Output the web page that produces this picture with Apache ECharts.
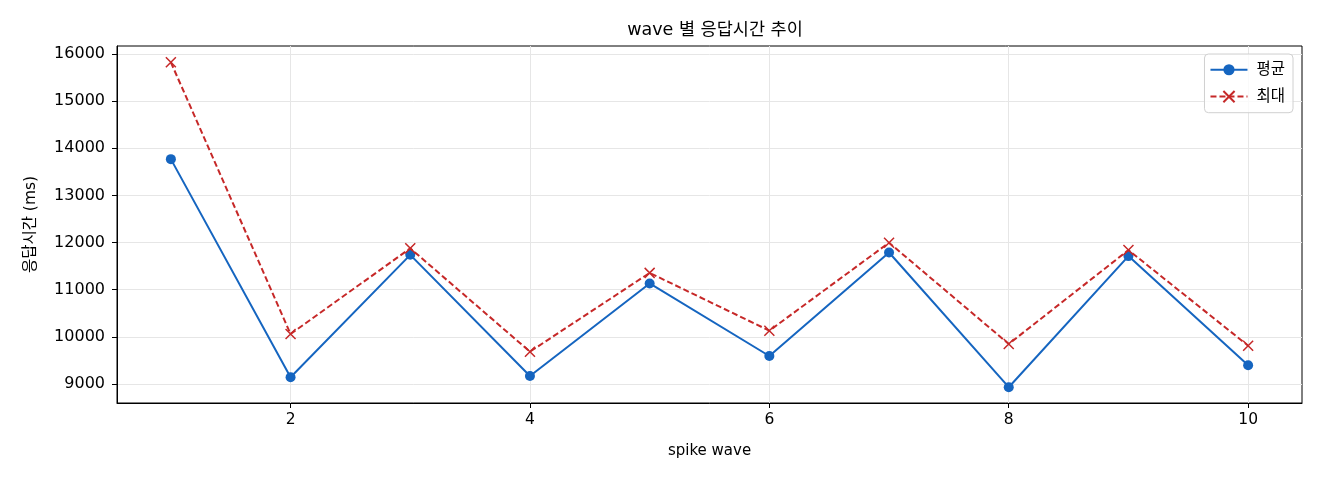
<!DOCTYPE html>
<html>
<head>
<meta charset="utf-8">
<script src="https://cdn.jsdelivr.net/npm/echarts@6/dist/echarts.min.js"></script>
<style>
html,body{margin:0;padding:0;background:#fff;}
#chart{width:1320px;height:480px;}
</style>
</head>
<body>
<div id="chart"></div>
<script>
const waves = [1, 2, 3, 4, 5, 6, 7, 8, 9, 10];
const meanValues = [13770, 9142, 11740, 9170, 11133, 9594, 11790, 8932, 11713, 9397];
const maxValues = [15825, 10061, 11878, 9686, 11357, 10131, 11998, 9849, 11841, 9813];
const xTicks = [2, 4, 6, 8, 10];
const yTicks = [9000, 10000, 11000, 12000, 13000, 14000, 15000, 16000];
const seriesNames = ['평균', '최대'];

const FONT = '"DejaVu Sans", "Noto Sans CJK KR", sans-serif';
const chart = echarts.init(document.getElementById('chart'));
chart.setOption({
  backgroundColor: '#fff',
  animation: false,
  title: {
    text: 'wave 별 응답시간 추이',
    left: 710, top: 17, textAlign: 'center',
    textStyle: { fontFamily: FONT, fontSize: 17.5, fontWeight: 'normal', color: '#000' }
  },
  legend: {
    right: 27, top: 54, orient: 'vertical',
    itemWidth: 37, itemHeight: 14, itemGap: 11,
    padding: [8, 8, 8, 5],
    borderColor: '#d0d0d0', borderWidth: 1, borderRadius: 4,
    backgroundColor: 'rgba(255,255,255,0.8)',
    textStyle: { fontFamily: FONT, fontSize: 15.5, color: '#000', padding: [0, 0, 0, 4] },
    data: seriesNames
  },
  grid: {
    left: 117, right: 18, top: 46, bottom: 77,
    show: true, borderColor: '#000', borderWidth: 1, backgroundColor: '#fff'
  },
  xAxis: {
    type: 'value', min: 0.55, max: 10.45,
    name: 'spike wave', nameLocation: 'middle', nameGap: 41,
    nameTextStyle: { fontFamily: FONT, fontSize: 15, color: '#000' },
    axisLine: { show: true, lineStyle: { color: '#000' } },
    axisTick: { show: true, customValues: xTicks, length: 5, lineStyle: { color: '#000' } },
    axisLabel: { customValues: xTicks, fontFamily: FONT, fontSize: 15.5, color: '#000', margin: 9 },
    splitLine: { show: true, lineStyle: { color: '#e6e6e6', width: 1 } }
  },
  yAxis: {
    type: 'value', min: 8597, max: 16170,
    name: '응답시간 (ms)', nameLocation: 'middle', nameGap: 78, nameRotate: 90,
    nameTextStyle: { fontFamily: FONT, fontSize: 15.5, color: '#000' },
    axisLine: { show: true, lineStyle: { color: '#000' } },
    axisTick: { show: true, customValues: yTicks, length: 5, lineStyle: { color: '#000' } },
    axisLabel: { customValues: yTicks, formatter: v => String(v), fontFamily: FONT, fontSize: 16, color: '#000', margin: 12 },
    splitLine: { show: true, lineStyle: { color: '#e6e6e6', width: 1 } }
  },
  series: [
    {
      name: seriesNames[0], type: 'line',
      data: waves.map((w, i) => [w, meanValues[i]]),
      symbol: 'circle', symbolSize: 10,
      lineStyle: { color: '#1565c0', width: 2 },
      itemStyle: { color: '#1565c0' },
      z: 3
    },
    {
      name: seriesNames[1], type: 'line',
      data: waves.map((w, i) => [w, maxValues[i]]),
      symbol: 'path://M0,0 L10,10 M10,0 L0,10', symbolSize: 10,
      lineStyle: { color: '#c62828', width: 2, type: [6, 3] },
      itemStyle: { color: 'none', borderColor: '#c62828', borderWidth: 1.5 },
      z: 4
    }
  ]
});
</script>
</body>
</html>
